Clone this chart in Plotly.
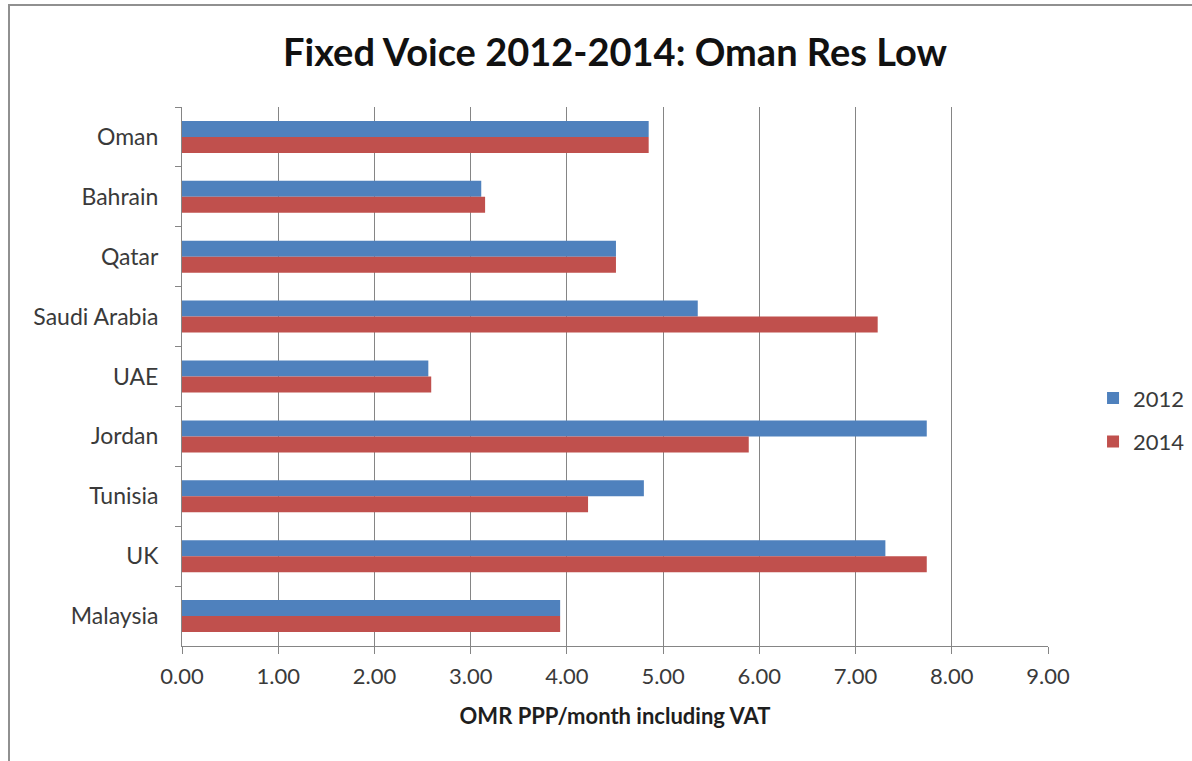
import plotly.graph_objects as go

countries = ["Oman", "Bahrain", "Qatar", "Saudi Arabia", "UAE", "Jordan", "Tunisia", "UK", "Malaysia"]
vals_2012 = [4.85, 3.11, 4.51, 5.36, 2.56, 7.74, 4.80, 7.31, 3.93]
vals_2014 = [4.85, 3.15, 4.51, 7.23, 2.59, 5.89, 4.22, 7.74, 3.93]
x_ticks = [0, 1, 2, 3, 4, 5, 6, 7, 8, 9]

FONT = "Lato"
TXT = "#3a3a3a"

fig = go.Figure()
fig.add_trace(go.Bar(y=countries, x=vals_2012, name="2012", orientation="h",
                     marker=dict(color="#4F81BD", line=dict(width=0)), legendgroup="a"))
fig.add_trace(go.Bar(y=countries, x=vals_2014, name="2014", orientation="h",
                     marker=dict(color="#C0504D", line=dict(width=0)), legendgroup="b"))

fig.update_layout(
    width=1192, height=761,
    margin=dict(l=182, r=144, t=107, b=115, autoexpand=False),
    paper_bgcolor="white", plot_bgcolor="white",
    barmode="group", bargap=0.466, bargroupgap=0,
    font=dict(family=FONT, color=TXT, size=22),
    title=dict(text="<b>Fixed Voice 2012-2014: Oman Res Low</b>",
               x=0.5, xref="paper", xanchor="center",
               y=1 - 53 / 761, yref="container", yanchor="middle",
               font=dict(family=FONT, size=38, color="#111111")),
    legend=dict(x=1.052, y=0.419, xanchor="left", yanchor="middle",
                font=dict(size=22, color=TXT), tracegroupgap=12,
                traceorder="grouped", bgcolor="rgba(0,0,0,0)"),
    xaxis=dict(range=[0, 9], tickvals=x_ticks, tickformat=".2f",
               showgrid=True, gridcolor="#858585", gridwidth=1,
               showline=True, linecolor="#858585", linewidth=1,
               ticks="outside", ticklen=7, tickcolor="#858585",
               zeroline=False, ticklabelstandoff=4,
               tickfont=dict(size=22, color=TXT),
               title=dict(text="<b>OMR PPP/month including VAT</b>",
                          font=dict(size=22, color="#1e1e1e"), standoff=20)),
    yaxis=dict(autorange="reversed", showgrid=False,
               showline=True, linecolor="#858585", linewidth=1,
               ticks="outside", ticklen=6, tickcolor="#858585",
               tickson="boundaries", ticklabelstandoff=18,
               tickfont=dict(size=23, color=TXT)),
    shapes=[dict(type="rect", xref="paper", yref="paper",
                 x0=(9 - 182) / 866, x1=1.3, y0=-0.5, y1=(646 - 5) / 539,
                 line=dict(color="#909090", width=2), fillcolor="rgba(0,0,0,0)",
                 layer="below")],
)

fig.write_html("out.html")
